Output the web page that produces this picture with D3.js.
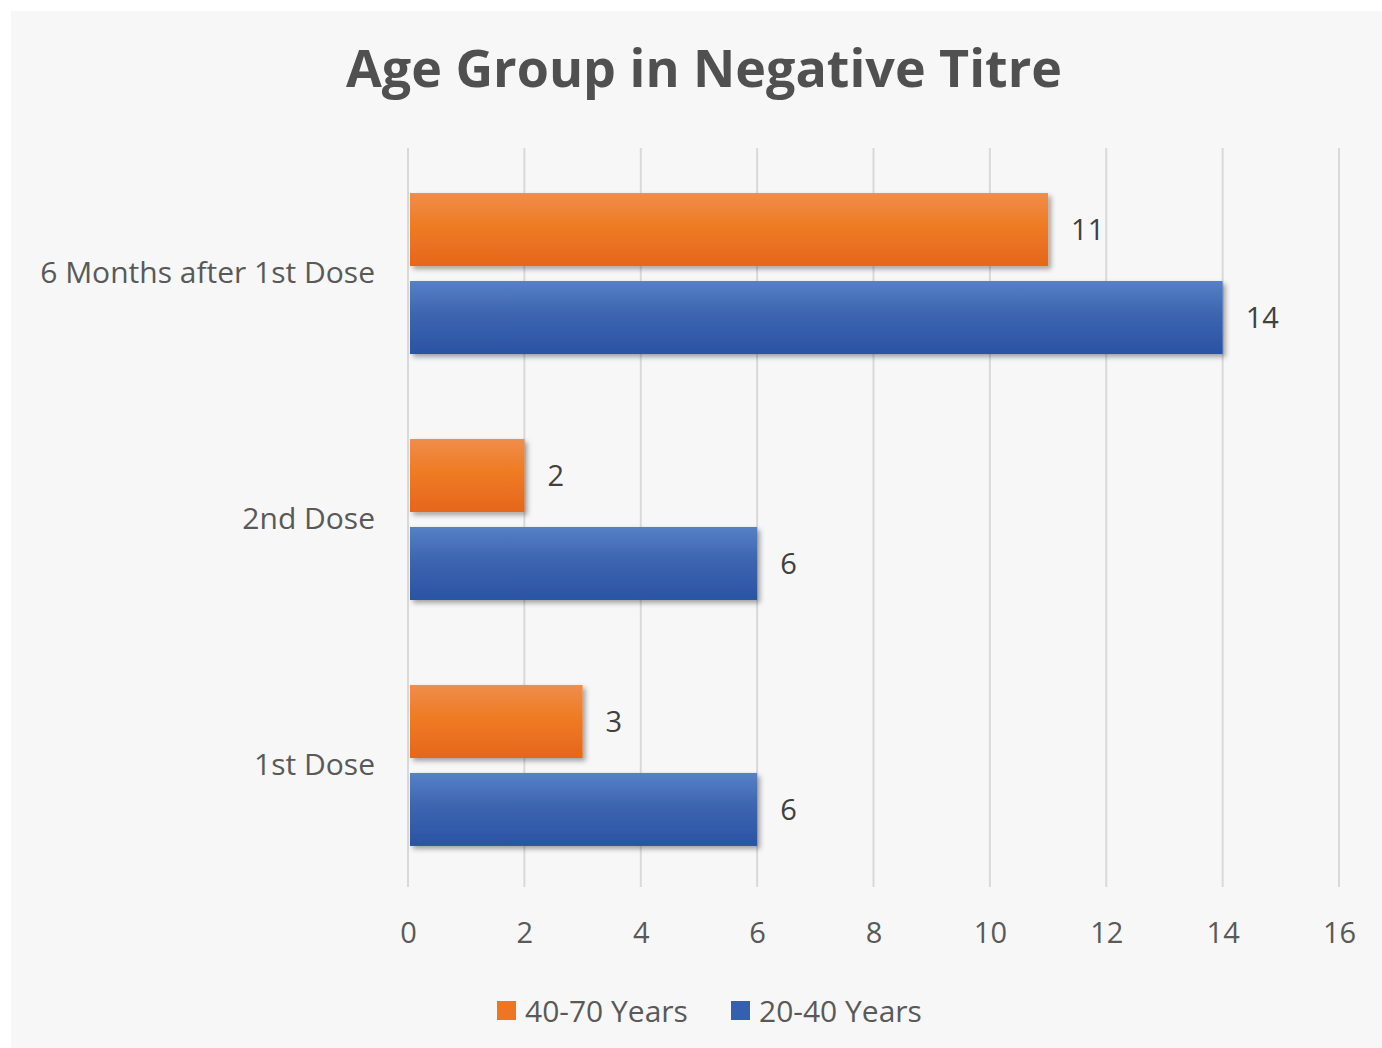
<!DOCTYPE html>
<html>
<head>
<meta charset="utf-8">
<script src="https://cdn.jsdelivr.net/npm/d3@7"></script>
<style>
  html, body { margin: 0; padding: 0; background: #ffffff; }
  svg { display: block; font-family: "Open Sans", "Noto Sans", sans-serif; }
</style>
</head>
<body>
<div id="chart"></div>
<script>
const categories = ['6 Months after 1st Dose', '2nd Dose', '1st Dose'];
const seriesNames = ['40-70 Years', '20-40 Years'];
const olderValues = [11, 2, 3];
const youngerValues = [14, 6, 6];
const xTicks = [0, 2, 4, 6, 8, 10, 12, 14, 16];

const width = 1382;
const height = 1048;
const margin = { top: 150, left: 408, right: 43, bottom: 160 };
const fontFamily = '"Open Sans", "Noto Sans", sans-serif';

const rows = categories.map((c, i) => ({
  category: c,
  values: [olderValues[i], youngerValues[i]],
}));

const svg = d3.select('#chart').append('svg')
    .attr('width', width)
    .attr('height', height);

const defs = svg.append('defs');

const gradients = [
  { id: 'grad-orange', stops: ['#f08d4c', '#ef7b22', '#e5661e'] },
  { id: 'grad-blue', stops: ['#5681c6', '#3c65b0', '#2a54a3'] },
];
gradients.forEach(g => {
  const lg = defs.append('linearGradient')
      .attr('id', g.id)
      .attr('x1', 0).attr('y1', 0).attr('x2', 0).attr('y2', 1);
  lg.append('stop').attr('offset', '0%').attr('stop-color', g.stops[0]);
  lg.append('stop').attr('offset', '45%').attr('stop-color', g.stops[1]);
  lg.append('stop').attr('offset', '100%').attr('stop-color', g.stops[2]);
});

defs.append('filter')
    .attr('id', 'shadow')
    .attr('x', '-5%').attr('y', '-20%').attr('width', '115%').attr('height', '150%')
  .append('feDropShadow')
    .attr('dx', 3).attr('dy', 3)
    .attr('stdDeviation', 2.5)
    .attr('flood-color', '#000')
    .attr('flood-opacity', 0.35);

// panel background
svg.append('rect')
    .attr('x', 11).attr('y', 11)
    .attr('width', width - 11).attr('height', height - 11)
    .attr('fill', '#f7f7f7');

svg.append('text')
    .attr('x', 704)
    .attr('y', 87)
    .attr('text-anchor', 'middle')
    .attr('font-size', 52)
    .attr('font-weight', 700)
    .attr('fill', '#505050')
    .text('Age Group in Negative Titre');

const x = d3.scaleLinear()
    .domain([0, 16])
    .range([margin.left, width - margin.right]);

const y = d3.scaleBand()
    .domain(categories)
    .range([margin.top, 889])
    .paddingInner(0.3455)
    .paddingOuter(0.175);

const inner = d3.scaleBand()
    .domain([0, 1])
    .range([0, y.bandwidth()])
    .paddingInner(0.17);

// gridlines
svg.append('g')
    .selectAll('line')
    .data(xTicks)
  .enter().append('line')
    .attr('x1', d => x(d)).attr('x2', d => x(d))
    .attr('y1', margin.top - 2).attr('y2', 887)
    .attr('stroke', '#d9d9d9')
    .attr('stroke-width', 2);

// x axis labels
const xAxis = d3.axisBottom(x).tickValues(xTicks).tickSize(0).tickPadding(0);
const gx = svg.append('g')
    .attr('transform', 'translate(0,922)')
    .call(xAxis);
gx.select('.domain').remove();
gx.selectAll('text')
    .attr('font-family', fontFamily)
    .attr('font-size', 29)
    .attr('fill', '#595959');

// y axis labels
const yAxis = d3.axisLeft(y).tickSize(0).tickPadding(0);
const gy = svg.append('g')
    .attr('transform', 'translate(375,0)')
    .call(yAxis);
gy.select('.domain').remove();
gy.selectAll('text')
    .attr('font-family', fontFamily)
    .attr('font-size', 30)
    .attr('fill', '#595959');

const fills = ['url(#grad-orange)', 'url(#grad-blue)'];

const groups = svg.append('g')
    .selectAll('g')
    .data(rows)
  .enter().append('g')
    .attr('transform', d => `translate(0,${y(d.category)})`);

groups.selectAll('rect')
    .data(d => d.values.map((v, i) => ({ v, i })))
  .enter().append('rect')
    .attr('x', x(0) + 2)
    .attr('y', d => inner(d.i))
    .attr('width', d => x(d.v) - x(0) - 2)
    .attr('height', inner.bandwidth())
    .attr('fill', d => fills[d.i])
    .attr('filter', 'url(#shadow)');

groups.selectAll('text.value')
    .data(d => d.values.map((v, i) => ({ v, i })))
  .enter().append('text')
    .attr('class', 'value')
    .attr('x', d => x(d.v) + 23)
    .attr('y', d => inner(d.i) + inner.bandwidth() / 2)
    .attr('dy', '0.35em')
    .attr('font-size', 29)
    .attr('fill', '#404040')
    .text(d => d.v);

// legend
const legendColors = ['#ee7622', '#3560ad'];
const legendX = [497, 731];
const legend = svg.append('g')
    .selectAll('g')
    .data(seriesNames)
  .enter().append('g')
    .attr('transform', (d, i) => `translate(${legendX[i]},1001)`);
legend.append('rect')
    .attr('width', 19).attr('height', 19)
    .attr('fill', (d, i) => legendColors[i]);
legend.append('text')
    .attr('x', 28)
    .attr('y', 21)
    .attr('font-size', 30)
    .attr('fill', '#595959')
    .text(d => d);
</script>
</body>
</html>
